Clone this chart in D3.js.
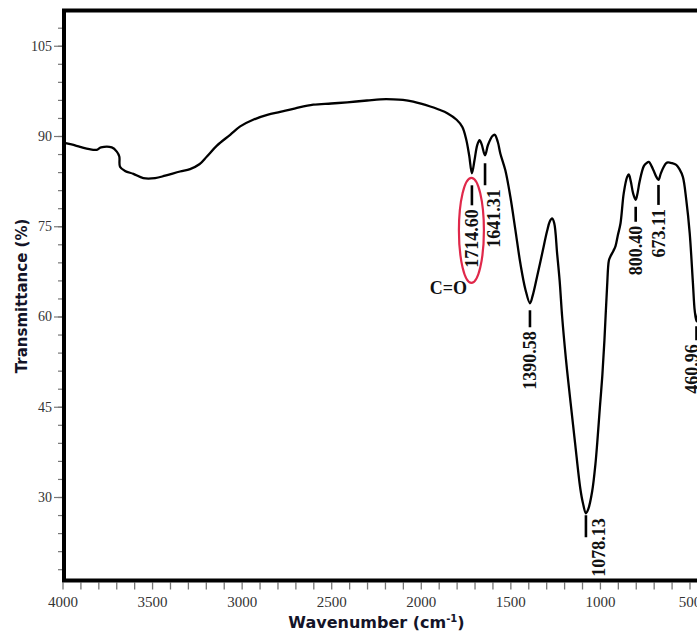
<!DOCTYPE html>
<html><head><meta charset="utf-8">
<script src="https://cdn.jsdelivr.net/npm/d3@7"></script>
<style>html,body{margin:0;padding:0;background:#fff;overflow:hidden}</style>
</head><body>
<svg id="c" width="697" height="635"></svg>
<script>
// ---- data ----
const wavenumber = [3997,3950,3902,3850,3809,3785,3725,3697,3683,3679,
  3651,3604,3549,3483,3427,3344,3288,3236,3194,3138,
  3064,3008,2936,2857,2785,2700,2600,2500,2411,2300,
  2226,2153,2100,2042,1947,1900,1852,1800,1768,1747,
  1730,1714.6,1700,1685,1672,1660,1641.3,1625,1600,1587,
  1570,1556,1528,1500,1472,1444,1416,1390.6,1375,1351,
  1323,1295,1280,1267,1255,1239,1225,1211,1190,1176,
  1150,1137,1110,1095,1078.1,1065,1043,1025,1015,1000,
  987,975,960,950,941,925,913,900,885,867,
  848,839,828,815,800.4,790,778,755,740,727,
  712,701,685,673.1,660,645,630,620,600,574,
  556,537,518,499,481,471,461,450,440];
const transmittance = [88.9,88.6,88.2,87.8,87.7,88.1,88.1,87.4,86.6,84.9,
  84.2,83.7,83.0,83.0,83.4,84.1,84.5,85.3,86.6,88.4,
  90.2,91.6,92.7,93.5,94.0,94.6,95.2,95.4,95.6,95.9,
  96.1,96.1,96.0,95.7,94.9,94.4,93.8,92.7,91.5,89.5,
  86.8,83.8,86.0,88.5,89.3,88.6,86.8,88.5,90.0,90.2,
  89.0,87.1,84.3,79.9,74.4,68.8,64.5,62.2,63.5,66.6,
  70.4,74.2,75.8,76.3,75.5,70.5,66.0,60.0,53.0,49.0,
  42.0,38.5,31.5,29.0,27.3,28.0,31.0,35.5,39.0,45.0,
  50.0,56.0,65.0,69.3,70.0,70.9,71.7,73.5,75.5,80.5,
  83.2,83.6,82.5,80.5,79.4,80.5,82.5,85.0,85.5,85.7,
  85.0,84.3,83.2,82.7,83.8,84.8,85.5,85.6,85.5,85.2,
  84.5,83.2,79.4,73.9,65.6,61.0,59.2,61.0,65.0];
const peakWavenumbers = [1714.60,1641.31,1390.58,1078.13,800.40,673.11,460.96];
const peakLabels = ["1714.60","1641.31","1390.58","1078.13","800.40","673.11","460.96"];
const highlightedPeak = "1714.60";
const groupLabel = "C=O";
const xTickValues = d3.range(4000, 399, -100);
const xMajorStep = 500;
const yTickValues = [30,45,60,75,90,105];
const yMinorTickValues = d3.range(18, 109, 3);
const xTitle = "Wavenumber (cm";
const xTitleSup = "-1";
const yTitle = "Transmittance (%)";

// ---- layout ----
const svg = d3.select("#c");
const x = d3.scaleLinear().domain([4000, 500]).range([62.5, 689.5]);
const y = d3.scaleLinear().domain([90, 30]).range([136, 497]);
const frameTop = 10.5, frameBottom = 580.5, frameLeft = 64;
const serif = "'Liberation Serif','Times New Roman',serif";
const sans = "'DejaVu Sans',Verdana,sans-serif";

// ticks (x)
const gx = svg.append("g").attr("transform", `translate(0,${frameBottom + 2})`)
  .call(d3.axisBottom(x).tickValues(xTickValues).tickSize(7).tickPadding(7)
    .tickFormat(d => d % xMajorStep === 0 ? d : ""));
gx.select(".domain").remove();
gx.selectAll(".tick line").attr("stroke", "#777").attr("stroke-width", 1.3);
gx.selectAll(".tick text").attr("font-family", serif).attr("font-size", 15).attr("fill", "#333");

// ticks (y)
const gyMinor = svg.append("g").attr("transform", `translate(${frameLeft - 2},0)`)
  .call(d3.axisLeft(y).tickValues(yMinorTickValues).tickSize(4).tickFormat(""));
gyMinor.select(".domain").remove();
gyMinor.selectAll(".tick line").attr("stroke", "#777").attr("stroke-width", 1.2);
const gy = svg.append("g").attr("transform", `translate(${frameLeft - 2},0)`)
  .call(d3.axisLeft(y).tickValues(yTickValues).tickSize(8).tickPadding(2));
gy.select(".domain").remove();
gy.selectAll(".tick line").attr("stroke", "#777").attr("stroke-width", 1.2);
gy.selectAll(".tick text").attr("font-family", serif).attr("font-size", 14).attr("fill", "#333");

// frame
svg.append("path")
  .attr("d", `M697,${frameTop}H${frameLeft}V${frameBottom}H697`)
  .attr("fill", "none").attr("stroke", "#000").attr("stroke-width", 4)
  .attr("stroke-linejoin", "miter");

// spectrum
const pts = wavenumber.map((w, i) => [w, transmittance[i]]);
svg.append("path")
  .datum(pts)
  .attr("d", d3.line().x(d => x(d[0])).y(d => y(d[1])).curve(d3.curveCatmullRom.alpha(0.5)))
  .attr("fill", "none").attr("stroke", "#000").attr("stroke-width", 2.3)
  .attr("stroke-linejoin", "round");

// peak annotations
const labelLayout = [
  {gap: 12, len: 20, tdx: 0},
  {gap: 8, len: 22, tdx: 8.5},
  {gap: 7, len: 17, tdx: 0},
  {gap: 2, len: 22, tdx: 13, beside: true},
  {gap: 7, len: 15, tdx: 0},
  {gap: 5, len: 20, tdx: 0},
  {gap: 5, len: 14, tdx: -4.5}
];
function valueAt(w) {
  const i = d3.minIndex(wavenumber, v => Math.abs(v - w));
  return transmittance[i];
}
const ann = svg.append("g");
peakWavenumbers.forEach((w, i) => {
  const L = labelLayout[i];
  const px = x(w), py = y(valueAt(w));
  const lt = py + L.gap, lb = lt + L.len;
  ann.append("line").attr("x1", px).attr("x2", px).attr("y1", lt).attr("y2", lb)
    .attr("stroke", "#000").attr("stroke-width", 2.6);
  const tt = L.beside ? lt + 3 : lb + 4;
  ann.append("text")
    .attr("transform", `translate(${px + L.tdx},${tt}) rotate(-90)`)
    .attr("text-anchor", "end").attr("dy", "0.35em")
    .attr("font-family", serif).attr("font-weight", "bold").attr("font-size", 18)
    .attr("fill", "#111").text(peakLabels[i]);
  if (peakLabels[i] === highlightedPeak) {
    ann.append("ellipse").attr("cx", px - 0.5).attr("cy", py + 57)
      .attr("rx", 12.5).attr("ry", 52.5)
      .attr("fill", "none").attr("stroke", "#e0284a").attr("stroke-width", 2.2);
    ann.append("text").attr("x", px - 5).attr("y", py + 121)
      .attr("text-anchor", "end")
      .attr("font-family", serif).attr("font-weight", "bold").attr("font-size", 18)
      .attr("fill", "#111").text(groupLabel);
  }
});

// axis titles
const xt = svg.append("text").attr("x", 376.5).attr("y", 628).attr("text-anchor", "middle")
  .attr("font-family", sans).attr("font-weight", "bold").attr("font-size", 16).attr("fill", "#141428");
xt.append("tspan").text(xTitle);
xt.append("tspan").attr("dy", -6).attr("font-size", 10).text(xTitleSup);
xt.append("tspan").attr("dy", 6).text(")");

svg.append("text")
  .attr("transform", "translate(22,296) rotate(-90)")
  .attr("text-anchor", "middle").attr("dy", "0.35em")
  .attr("font-family", sans).attr("font-weight", "bold").attr("font-size", 15).attr("fill", "#141428")
  .text(yTitle);
</script>
</body></html>
